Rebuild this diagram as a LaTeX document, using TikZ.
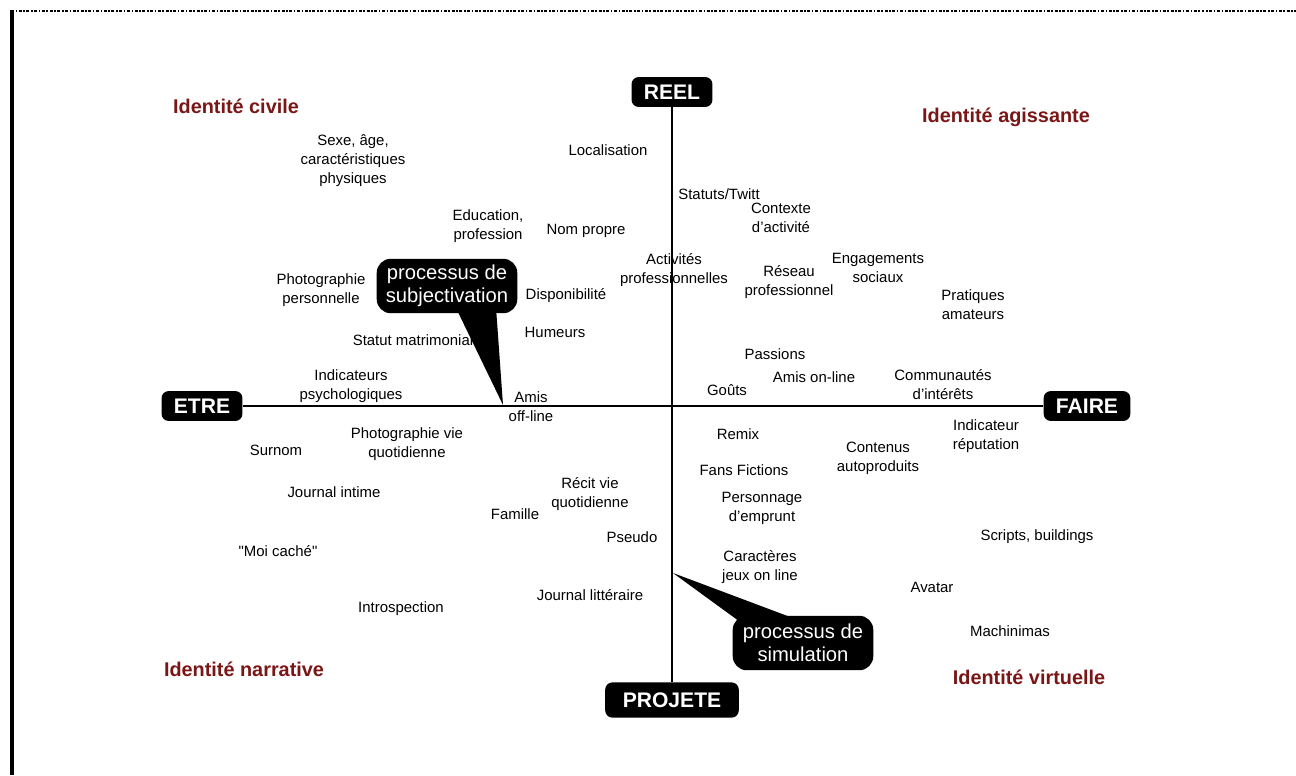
\documentclass[tikz,border=0pt]{standalone}
\usepackage{fontspec}
\setmainfont{Liberation Sans}
\newfontfamily\straightfont{Liberation Sans}[Ligatures=TeXOff]
\usepackage{tikz}
\usetikzlibrary{positioning}

\definecolor{idred}{RGB}{122,22,22}

\tikzset{
  lbl/.style={font=\fontsize{8.5}{10.8}\selectfont, align=center, inner sep=0pt},
  idtitle/.style={font=\fontsize{11.3}{13}\selectfont\bfseries, text=idred, inner sep=0pt},
  axisbox/.style={fill=black, text=white, rounded corners=4pt, font=\fontsize{12}{14}\selectfont\bfseries,
    inner xsep=7pt, minimum height=17pt},
  callout/.style={fill=black, text=white, rounded corners=8pt, font=\fontsize{11.5}{13}\selectfont,
    align=center, minimum width=80pt, minimum height=31pt, inner xsep=4pt},
  axisline/.style={draw=black, line width=1.1pt}
}

\begin{document}
\begin{tikzpicture}[x=0.02cm, y=-0.02cm]
\useasboundingbox (0,0) rectangle (1296,775);

% frame
\draw[line width=1.6pt, dash pattern=on 1.7pt off 0.9pt on 0.9pt off 0.9pt] (11,11) -- (1296,11);
\draw[line width=2.3pt] (12,10) -- (12,775);

% axes
\node[axisbox] (reel) at (672,92) {REEL};
\node[axisbox] (etre) at (202,406) {ETRE};
\node[axisbox] (faire) at (1087,406) {FAIRE};
\node[axisbox, minimum height=20pt, minimum width=76pt] (projete) at (672,700) {PROJETE};
\draw[axisline] (reel) -- (projete);
\draw[axisline] (etre) -- (faire);

% quadrants
\node[idtitle] (civile) at (236,106) {Identité civile};
\node[idtitle] (agissante) at (1006,117) {Identité agissante};
\node[idtitle] (narrative) at (244,669) {Identité narrative};
\node[idtitle] (virtuelle) at (1029,677) {Identité virtuelle};

% labels
\node[lbl] (sexe) at (353,161) {Sexe, âge,\\caractéristiques\\physiques};
\node[lbl] (loc) at (608,150) {Localisation};
\node[lbl] (statuts) at (719,194) {Statuts/Twitt};
\node[lbl] (contexte) at (781,218) {Contexte\\d'activité};
\node[lbl] (educ) at (488,226) {Education,\\profession};
\node[lbl] (nom) at (586,231) {Nom propre};
\node[lbl] (activ) at (674,270) {Activités\\professionnelles};
\node[lbl] (reseau) at (789,282) {Réseau\\professionnel};
\node[lbl] (engag) at (878,268) {Engagements\\sociaux};
\node[lbl] (prat) at (973,305) {Pratiques\\amateurs};
\node[lbl] (photo) at (321,290) {Photographie\\personnelle};
\node[lbl] (dispo) at (566,296) {Disponibilité};
\node[lbl] (statut) at (413,340) {Statut matrimonial};
\node[lbl] (humeurs) at (555,332) {Humeurs};
\node[lbl] (passions) at (775,354) {Passions};
\node[lbl] (amison) at (814,377) {Amis on-line};
\node[lbl] (commu) at (943,385) {Communautés\\d'intérêts};
\node[lbl] (indic) at (351,386) {Indicateurs\\psychologiques};
\node[lbl] (amisoff) at (531,407) {Amis\\off-line};
\node[lbl] (gouts) at (727,390) {Goûts};
\node[lbl] (remix) at (738,434) {Remix};
\node[lbl] (contenus) at (878,458) {Contenus\\autoproduits};
\node[lbl] (indrep) at (986,436) {Indicateur\\réputation};
\node[lbl] (surnom) at (276,450) {Surnom};
\node[lbl] (photovie) at (407,444) {Photographie vie\\quotidienne};
\node[lbl] (fans) at (744,470) {Fans Fictions};
\node[lbl] (journal) at (334,492) {Journal intime};
\node[lbl] (recit) at (590,494) {Récit vie\\quotidienne};
\node[lbl] (perso) at (762,508) {Personnage\\d'emprunt};
\node[lbl] (famille) at (515,514) {Famille};
\node[lbl] (pseudo) at (632,537) {Pseudo};
\node[lbl] (scripts) at (1037,537) {Scripts, buildings};
\node[lbl] (moi) at (278,551) {\straightfont"Moi caché"};
\node[lbl] (caract) at (760,567) {Caractères\\jeux on line};
\node[lbl] (avatar) at (932,587) {Avatar};
\node[lbl] (journallit) at (590,595) {Journal littéraire};
\node[lbl] (intro) at (401,609) {Introspection};
\node[lbl] (machin) at (1010,631) {Machinimas};

% callouts
\node[callout] (subj) at (447,286) {processus de\\subjectivation};
\coordinate (subjtip) at (503,405);
\fill (subjtip) -- ([xshift=5.7pt, yshift=2pt]subj.south) -- ([xshift=28pt, yshift=2pt]subj.south) -- cycle;

\node[callout] (simu) at (803,643) {processus de\\simulation};
\coordinate (simutip) at (673,573);
\fill (simutip) -- ([xshift=-34pt, yshift=-5pt]simu.north) -- ([xshift=-7pt, yshift=-1pt]simu.north) -- cycle;

\end{tikzpicture}
\end{document}
